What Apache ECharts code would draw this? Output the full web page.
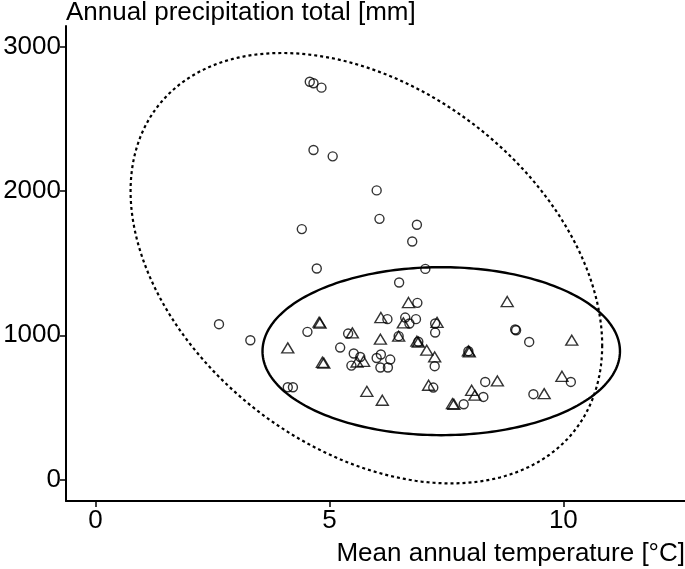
<!DOCTYPE html>
<html>
<head>
<meta charset="utf-8">
<script src="https://cdn.jsdelivr.net/npm/echarts@6/dist/echarts.min.js"></script>
<style>
  html, body { margin: 0; padding: 0; background: #fff; }
  #chart { width: 685px; height: 569px; }
</style>
</head>
<body>
<div id="chart"></div>
<script>
// circles (group 1)
const circleTemp = [4.58, 4.66, 4.83, 4.66, 5.07, 6.01, 6.07, 6.87, 6.77, 4.41, 4.73, 7.05, 6.49,
  6.88, 2.64, 3.31, 4.53, 5.23, 5.40, 6.24, 6.62, 6.71, 6.85, 6.48, 6.90,
  7.26, 7.26, 7.25, 5.52, 5.66, 5.47, 6.01, 6.10, 6.30, 6.09, 6.25, 4.11, 4.22, 7.22,
  8.97, 8.99, 9.27, 7.97, 8.33, 10.16, 8.29, 7.87, 9.36]
const circlePrecip = [2757, 2746, 2716, 2284, 2240, 2004, 1807, 1766, 1650, 1736, 1463, 1460, 1366,
  1225, 1077, 966, 1024, 915, 1012, 1112, 1123, 1082, 1112, 994, 955,
  1082, 1019, 786, 874, 850, 790, 843, 867, 832, 777, 777, 640, 640, 638,
  1040, 1035, 954, 890, 677, 677, 573, 522, 592]

// triangles (group 2)
const triTemp = [6.69, 4.78, 4.80, 4.11, 4.85, 4.88, 5.49, 6.09, 6.10, 6.58, 6.48, 6.87, 6.90,
  7.08, 7.25, 5.73, 5.59, 5.80, 6.13, 7.12, 7.30, 8.80, 10.18, 7.97, 7.99,
  8.59, 9.97, 8.04, 8.11, 7.63, 7.66, 9.59]
const triPrecip = [1227, 1091, 1085, 913, 813, 808, 1017, 973, 1123, 1086, 994, 959, 952,
  897, 850, 820, 815, 612, 550, 654, 1090, 1234, 966, 892, 885,
  684, 716, 619, 585, 527, 522, 596]

// ellipses: x = cx + rx*cos(t), y = cy + ry*cos(t - phase)
const ellipseCx = [5.79, 7.39]
const ellipseCy = [1465, 890]
const ellipseRx = [5.04, 3.82]
const ellipseRy = [1491, 582]
const ellipsePhase = [-111, 90]
const ellipseDashed = [1, 0]

const xTicks = [0, 5, 10]
const yTicks = [0, 1000, 2000, 3000]

const font = 'Liberation Sans, Arial, sans-serif'
const chart = echarts.init(document.getElementById('chart'))

const zip = (xs, ys) => xs.map((x, i) => [x, ys[i]])
const ellipseData = ellipseCx.map((cx, i) =>
  [cx, ellipseCy[i], ellipseRx[i], ellipseRy[i], ellipsePhase[i], ellipseDashed[i]])

function renderEllipse(params, api) {
  const cx = api.value(0), cy = api.value(1)
  const rx = api.value(2), ry = api.value(3)
  const ph = api.value(4) * Math.PI / 180
  const dashed = api.value(5) === 1
  let points = []
  for (let k = 0; k <= 240; k++) {
    const t = k / 240 * Math.PI * 2
    points.push(api.coord([cx + rx * Math.cos(t), cy + ry * Math.cos(t - ph)]))
  }
  return {
    type: 'polyline',
    shape: { points: points },
    style: {
      fill: null,
      stroke: '#000',
      lineWidth: dashed ? 2.2 : 2.4,
      lineDash: dashed ? [3, 3] : null
    },
    silent: true
  }
}

let options = {
  backgroundColor: '#fff',
  animation: false,
  textStyle: { fontFamily: font },
  grid: { left: 66, right: 0, top: 26, bottom: 68, containLabel: false, outerBoundsMode: 'none' },
  xAxis: {
    type: 'value',
    min: -0.63,
    max: 12.6,
    name: 'Mean annual temperature [°C]',
    nameLocation: 'end',
    nameGap: 0,
    nameTextStyle: {
      color: '#000', fontSize: 26, fontFamily: font,
      align: 'right', verticalAlign: 'top', padding: [40, 0, 0, 0]
    },
    axisLine: { show: true, onZero: false, lineStyle: { color: '#000', width: 2 } },
    axisTick: { show: true, length: 6, customValues: xTicks, lineStyle: { color: '#000', width: 1.5 } },
    axisLabel: { customValues: xTicks, color: '#000', fontSize: 26, fontFamily: font, margin: 7 },
    splitLine: { show: false }
  },
  yAxis: {
    type: 'value',
    min: -148,
    max: 3143,
    name: 'Annual precipitation total [mm]',
    nameLocation: 'end',
    nameGap: 13,
    nameTextStyle: {
      color: '#000', fontSize: 26, fontFamily: font, align: 'left', verticalAlign: 'middle'
    },
    axisLine: { show: true, onZero: false, lineStyle: { color: '#000', width: 2 } },
    axisTick: { show: true, length: 6, customValues: yTicks, lineStyle: { color: '#000', width: 1.5 } },
    axisLabel: {
      customValues: yTicks, color: '#000', fontSize: 26, fontFamily: font, margin: 5,
      formatter: v => String(v)
    },
    splitLine: { show: false }
  },
  series: [
    {
      type: 'custom',
      renderItem: renderEllipse,
      data: ellipseData,
      encode: { x: 0, y: 1 },
      clip: false,
      z: 1
    },
    {
      name: 'circles',
      type: 'scatter',
      symbol: 'circle',
      symbolSize: 9,
      data: zip(circleTemp, circlePrecip),
      itemStyle: { color: 'rgba(0,0,0,0)', borderColor: '#000', borderWidth: 1.4 },
      z: 3
    },
    {
      name: 'triangles',
      type: 'scatter',
      symbol: 'triangle',
      symbolSize: [12, 10],
      data: zip(triTemp, triPrecip),
      itemStyle: { color: 'rgba(0,0,0,0)', borderColor: '#000', borderWidth: 1.4 },
      z: 3
    }
  ]
}
chart.setOption(options)
</script>
</body>
</html>
